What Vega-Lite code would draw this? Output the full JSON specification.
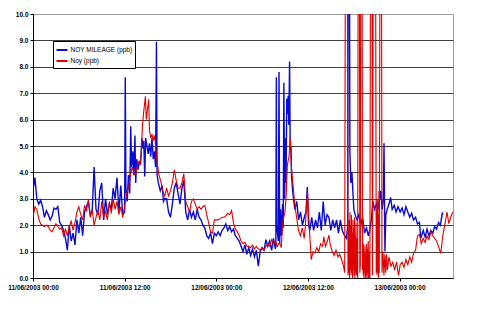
{
"$schema": "https://vega.github.io/schema/vega-lite/v6.json",
"width": 420, "height": 264,
"autosize": "none",
"padding": {"left": 33, "top": 14, "right": 32, "bottom": 44},
"background": "white",
"config": {"view": {"stroke": "#a0a0a0", "strokeWidth": 1}, "font": "Liberation Sans"},
"datasets": {
"mileage": [
{"t":"2003-06-11T00:00","v":3.3},{"t":"2003-06-11T00:15","v":3.8},{"t":"2003-06-11T00:30","v":3.0},{"t":"2003-06-11T00:45","v":2.8},
{"t":"2003-06-11T01:00","v":2.95},{"t":"2003-06-11T01:15","v":2.7},{"t":"2003-06-11T01:30","v":2.3},{"t":"2003-06-11T01:45","v":2.55},
{"t":"2003-06-11T02:00","v":2.4},{"t":"2003-06-11T02:15","v":2.2},{"t":"2003-06-11T02:30","v":2.35},{"t":"2003-06-11T02:45","v":2.65},
{"t":"2003-06-11T03:00","v":2.6},{"t":"2003-06-11T03:15","v":2.7},{"t":"2003-06-11T03:30","v":2.1},{"t":"2003-06-11T03:45","v":2.0},
{"t":"2003-06-11T04:00","v":1.8},{"t":"2003-06-11T04:15","v":1.5},{"t":"2003-06-11T04:30","v":1.05},{"t":"2003-06-11T04:45","v":2.0},
{"t":"2003-06-11T05:00","v":1.4},{"t":"2003-06-11T05:15","v":1.7},{"t":"2003-06-11T05:30","v":1.25},{"t":"2003-06-11T05:45","v":2.2},
{"t":"2003-06-11T06:00","v":1.7},{"t":"2003-06-11T06:15","v":2.3},{"t":"2003-06-11T06:30","v":1.6},{"t":"2003-06-11T06:45","v":2.5},
{"t":"2003-06-11T07:00","v":2.7},{"t":"2003-06-11T07:15","v":2.9},{"t":"2003-06-11T07:30","v":2.4},{"t":"2003-06-11T07:45","v":2.5},
{"t":"2003-06-11T08:00","v":4.2},{"t":"2003-06-11T08:15","v":2.6},{"t":"2003-06-11T08:30","v":2.4},{"t":"2003-06-11T08:45","v":3.3},
{"t":"2003-06-11T09:00","v":3.6},{"t":"2003-06-11T09:15","v":2.2},{"t":"2003-06-11T09:30","v":3.0},{"t":"2003-06-11T09:45","v":2.4},
{"t":"2003-06-11T10:00","v":2.8},{"t":"2003-06-11T10:15","v":2.6},{"t":"2003-06-11T10:30","v":3.4},{"t":"2003-06-11T10:45","v":3.0},
{"t":"2003-06-11T11:00","v":3.8},{"t":"2003-06-11T11:15","v":2.5},{"t":"2003-06-11T11:30","v":3.5},{"t":"2003-06-11T11:45","v":2.4},
{"t":"2003-06-11T12:00","v":2.5},{"t":"2003-06-11T12:05","v":7.6},{"t":"2003-06-11T12:10","v":3.4},{"t":"2003-06-11T12:20","v":2.9},
{"t":"2003-06-11T12:30","v":3.9},{"t":"2003-06-11T12:40","v":3.2},{"t":"2003-06-11T12:48","v":5.75},{"t":"2003-06-11T12:55","v":4.2},
{"t":"2003-06-11T13:05","v":4.8},{"t":"2003-06-11T13:12","v":3.9},{"t":"2003-06-11T13:21","v":5.4},{"t":"2003-06-11T13:27","v":3.6},
{"t":"2003-06-11T13:35","v":4.5},{"t":"2003-06-11T13:45","v":4.1},{"t":"2003-06-11T13:55","v":4.4},{"t":"2003-06-11T14:05","v":4.3},
{"t":"2003-06-11T14:15","v":5.3},{"t":"2003-06-11T14:25","v":4.9},{"t":"2003-06-11T14:30","v":5.2},{"t":"2003-06-11T14:38","v":3.85},
{"t":"2003-06-11T14:45","v":5.3},{"t":"2003-06-11T14:55","v":5.0},{"t":"2003-06-11T15:05","v":4.7},{"t":"2003-06-11T15:15","v":5.1},
{"t":"2003-06-11T15:25","v":4.6},{"t":"2003-06-11T15:35","v":5.3},{"t":"2003-06-11T15:45","v":4.5},{"t":"2003-06-11T15:55","v":4.8},
{"t":"2003-06-11T16:03","v":4.2},{"t":"2003-06-11T16:10","v":8.95},{"t":"2003-06-11T16:15","v":3.9},{"t":"2003-06-11T16:25","v":3.6},
{"t":"2003-06-11T16:40","v":3.3},{"t":"2003-06-11T16:55","v":3.5},{"t":"2003-06-11T17:05","v":2.9},{"t":"2003-06-11T17:15","v":3.0},
{"t":"2003-06-11T17:30","v":3.0},{"t":"2003-06-11T17:45","v":2.5},{"t":"2003-06-11T18:00","v":2.3},{"t":"2003-06-11T18:15","v":2.8},
{"t":"2003-06-11T18:30","v":3.4},{"t":"2003-06-11T18:45","v":3.6},{"t":"2003-06-11T19:00","v":3.2},{"t":"2003-06-11T19:15","v":2.8},
{"t":"2003-06-11T19:30","v":3.4},{"t":"2003-06-11T19:45","v":3.7},{"t":"2003-06-11T20:00","v":2.5},{"t":"2003-06-11T20:15","v":2.2},
{"t":"2003-06-11T20:30","v":2.6},{"t":"2003-06-11T20:45","v":2.3},{"t":"2003-06-11T21:00","v":2.5},{"t":"2003-06-11T21:15","v":2.2},
{"t":"2003-06-11T21:30","v":2.6},{"t":"2003-06-11T21:45","v":2.3},{"t":"2003-06-11T22:00","v":2.2},{"t":"2003-06-11T22:15","v":2.0},
{"t":"2003-06-11T22:30","v":1.9},{"t":"2003-06-11T22:45","v":1.6},{"t":"2003-06-11T23:00","v":1.5},{"t":"2003-06-11T23:15","v":1.7},
{"t":"2003-06-11T23:30","v":1.3},{"t":"2003-06-11T23:45","v":1.7},
{"t":"2003-06-12T00:00","v":1.6},{"t":"2003-06-12T00:15","v":1.75},{"t":"2003-06-12T00:30","v":1.6},{"t":"2003-06-12T00:45","v":1.8},
{"t":"2003-06-12T01:00","v":1.9},{"t":"2003-06-12T01:15","v":2.05},{"t":"2003-06-12T01:30","v":1.8},{"t":"2003-06-12T01:45","v":1.95},
{"t":"2003-06-12T02:00","v":1.75},{"t":"2003-06-12T02:15","v":1.85},{"t":"2003-06-12T02:30","v":1.6},{"t":"2003-06-12T02:45","v":1.5},
{"t":"2003-06-12T03:00","v":1.4},{"t":"2003-06-12T03:15","v":1.2},{"t":"2003-06-12T03:30","v":1.0},{"t":"2003-06-12T03:45","v":1.25},
{"t":"2003-06-12T04:00","v":0.9},{"t":"2003-06-12T04:15","v":1.15},{"t":"2003-06-12T04:30","v":0.85},{"t":"2003-06-12T04:45","v":1.1},
{"t":"2003-06-12T05:00","v":0.8},{"t":"2003-06-12T05:15","v":1.05},{"t":"2003-06-12T05:30","v":0.45},{"t":"2003-06-12T05:45","v":1.0},
{"t":"2003-06-12T06:00","v":1.15},{"t":"2003-06-12T06:15","v":1.05},{"t":"2003-06-12T06:30","v":1.45},{"t":"2003-06-12T06:45","v":1.2},
{"t":"2003-06-12T07:00","v":1.4},{"t":"2003-06-12T07:15","v":1.05},{"t":"2003-06-12T07:29","v":1.5},{"t":"2003-06-12T07:44","v":1.1},
{"t":"2003-06-12T07:48","v":1.2},{"t":"2003-06-12T07:52","v":7.6},{"t":"2003-06-12T07:55","v":2.0},{"t":"2003-06-12T08:07","v":1.4},
{"t":"2003-06-12T08:13","v":7.8},{"t":"2003-06-12T08:18","v":1.3},{"t":"2003-06-12T08:25","v":2.6},{"t":"2003-06-12T08:31","v":1.6},
{"t":"2003-06-12T08:41","v":2.8},{"t":"2003-06-12T08:46","v":1.9},{"t":"2003-06-12T08:51","v":7.4},{"t":"2003-06-12T08:57","v":3.0},
{"t":"2003-06-12T09:03","v":5.3},{"t":"2003-06-12T09:08","v":3.6},{"t":"2003-06-12T09:14","v":6.8},{"t":"2003-06-12T09:19","v":6.2},
{"t":"2003-06-12T09:25","v":6.9},{"t":"2003-06-12T09:30","v":5.8},{"t":"2003-06-12T09:36","v":8.2},{"t":"2003-06-12T09:41","v":4.9},
{"t":"2003-06-12T09:47","v":5.0},{"t":"2003-06-12T09:52","v":3.8},{"t":"2003-06-12T10:02","v":3.2},{"t":"2003-06-12T10:17","v":2.6},
{"t":"2003-06-12T10:32","v":2.9},{"t":"2003-06-12T10:47","v":2.2},{"t":"2003-06-12T11:02","v":2.5},{"t":"2003-06-12T11:17","v":2.0},
{"t":"2003-06-12T11:32","v":2.3},{"t":"2003-06-12T11:45","v":2.5},{"t":"2003-06-12T11:55","v":3.45},{"t":"2003-06-12T12:05","v":2.0},
{"t":"2003-06-12T12:15","v":1.8},{"t":"2003-06-12T12:30","v":2.3},{"t":"2003-06-12T12:45","v":1.8},{"t":"2003-06-12T13:00","v":2.2},
{"t":"2003-06-12T13:15","v":1.9},{"t":"2003-06-12T13:30","v":2.5},{"t":"2003-06-12T13:45","v":1.8},{"t":"2003-06-12T14:00","v":2.9},
{"t":"2003-06-12T14:15","v":2.0},{"t":"2003-06-12T14:30","v":2.4},{"t":"2003-06-12T14:45","v":2.3},{"t":"2003-06-12T15:00","v":1.8},
{"t":"2003-06-12T15:15","v":2.2},{"t":"2003-06-12T15:30","v":1.9},{"t":"2003-06-12T15:45","v":2.2},{"t":"2003-06-12T16:00","v":1.7},
{"t":"2003-06-12T16:15","v":2.2},{"t":"2003-06-12T16:30","v":1.8},{"t":"2003-06-12T16:48","v":1.6},{"t":"2003-06-12T17:03","v":1.5},
{"t":"2003-06-12T17:13","v":2.0},{"t":"2003-06-12T17:20","v":25},{"t":"2003-06-12T17:30","v":4.8},{"t":"2003-06-12T17:37","v":3.6},
{"t":"2003-06-12T17:46","v":4.0},{"t":"2003-06-12T17:54","v":3.2},{"t":"2003-06-12T18:01","v":2.6},{"t":"2003-06-12T18:11","v":2.4},
{"t":"2003-06-12T18:25","v":2.2},{"t":"2003-06-12T18:40","v":2.4},{"t":"2003-06-12T18:55","v":2.0},{"t":"2003-06-12T19:10","v":2.3},
{"t":"2003-06-12T19:25","v":1.7},{"t":"2003-06-12T19:40","v":1.9},{"t":"2003-06-12T19:55","v":1.6},{"t":"2003-06-12T20:05","v":1.8},
{"t":"2003-06-12T20:18","v":2.2},{"t":"2003-06-12T20:31","v":2.9},{"t":"2003-06-12T20:44","v":2.6},{"t":"2003-06-12T20:58","v":2.8},
{"t":"2003-06-12T21:10","v":2.6},{"t":"2003-06-12T21:24","v":3.0},{"t":"2003-06-12T21:33","v":3.3},{"t":"2003-06-12T21:43","v":2.6},
{"t":"2003-06-12T21:53","v":3.0},{"t":"2003-06-12T21:58","v":5.1},{"t":"2003-06-12T22:05","v":1.0},{"t":"2003-06-12T22:12","v":2.4},
{"t":"2003-06-12T22:23","v":2.6},{"t":"2003-06-12T22:37","v":2.8},{"t":"2003-06-12T22:50","v":3.05},{"t":"2003-06-12T23:02","v":2.6},
{"t":"2003-06-12T23:18","v":2.75},{"t":"2003-06-12T23:33","v":2.5},{"t":"2003-06-12T23:48","v":2.7},
{"t":"2003-06-13T00:05","v":2.5},{"t":"2003-06-13T00:20","v":2.65},{"t":"2003-06-13T00:35","v":2.4},{"t":"2003-06-13T00:50","v":2.7},
{"t":"2003-06-13T01:05","v":2.5},{"t":"2003-06-13T01:20","v":2.3},{"t":"2003-06-13T01:35","v":2.45},{"t":"2003-06-13T01:50","v":2.2},
{"t":"2003-06-13T02:06","v":2.3},{"t":"2003-06-13T02:21","v":2.05},{"t":"2003-06-13T02:36","v":2.1},{"t":"2003-06-13T02:47","v":1.5},
{"t":"2003-06-13T03:06","v":1.8},{"t":"2003-06-13T03:21","v":1.55},{"t":"2003-06-13T03:36","v":1.85},{"t":"2003-06-13T03:51","v":1.6},
{"t":"2003-06-13T04:06","v":1.8},{"t":"2003-06-13T04:21","v":1.7},{"t":"2003-06-13T04:36","v":1.95},{"t":"2003-06-13T04:51","v":1.85},
{"t":"2003-06-13T05:06","v":2.1},{"t":"2003-06-13T05:21","v":2.0},{"t":"2003-06-13T05:36","v":2.45},{"t":"2003-06-13T05:42","v":2.4}
],
"noy": [
{"t":"2003-06-11T00:00","v":2.3},{"t":"2003-06-11T00:15","v":2.7},{"t":"2003-06-11T00:30","v":2.6},{"t":"2003-06-11T00:45","v":2.25},
{"t":"2003-06-11T01:00","v":2.05},{"t":"2003-06-11T01:15","v":2.0},{"t":"2003-06-11T01:30","v":1.95},{"t":"2003-06-11T01:45","v":2.0},
{"t":"2003-06-11T02:00","v":1.95},{"t":"2003-06-11T02:15","v":1.8},{"t":"2003-06-11T02:30","v":1.75},{"t":"2003-06-11T02:45","v":1.9},
{"t":"2003-06-11T03:00","v":2.05},{"t":"2003-06-11T03:15","v":1.95},{"t":"2003-06-11T03:30","v":1.85},{"t":"2003-06-11T03:45","v":1.9},
{"t":"2003-06-11T04:00","v":1.6},{"t":"2003-06-11T04:15","v":1.85},{"t":"2003-06-11T04:30","v":1.6},{"t":"2003-06-11T04:45","v":1.95},
{"t":"2003-06-11T05:00","v":2.15},{"t":"2003-06-11T05:15","v":1.8},{"t":"2003-06-11T05:30","v":2.1},{"t":"2003-06-11T05:45","v":2.5},
{"t":"2003-06-11T06:00","v":2.7},{"t":"2003-06-11T06:15","v":2.4},{"t":"2003-06-11T06:30","v":2.2},{"t":"2003-06-11T06:45","v":2.75},
{"t":"2003-06-11T07:00","v":2.55},{"t":"2003-06-11T07:15","v":2.95},{"t":"2003-06-11T07:30","v":2.3},{"t":"2003-06-11T07:45","v":2.6},
{"t":"2003-06-11T08:00","v":2.0},{"t":"2003-06-11T08:15","v":2.3},{"t":"2003-06-11T08:30","v":2.55},{"t":"2003-06-11T08:45","v":2.2},
{"t":"2003-06-11T09:00","v":2.9},{"t":"2003-06-11T09:15","v":2.3},{"t":"2003-06-11T09:30","v":2.5},{"t":"2003-06-11T09:45","v":2.2},
{"t":"2003-06-11T10:00","v":2.9},{"t":"2003-06-11T10:15","v":2.45},{"t":"2003-06-11T10:30","v":3.0},{"t":"2003-06-11T10:45","v":2.6},
{"t":"2003-06-11T11:00","v":2.9},{"t":"2003-06-11T11:15","v":2.4},{"t":"2003-06-11T11:30","v":2.7},{"t":"2003-06-11T11:45","v":2.3},
{"t":"2003-06-11T12:00","v":2.7},{"t":"2003-06-11T12:15","v":3.2},{"t":"2003-06-11T12:30","v":3.4},{"t":"2003-06-11T12:45","v":3.9},
{"t":"2003-06-11T13:00","v":4.2},{"t":"2003-06-11T13:15","v":3.9},{"t":"2003-06-11T13:30","v":4.0},{"t":"2003-06-11T13:45","v":4.4},
{"t":"2003-06-11T14:00","v":4.3},{"t":"2003-06-11T14:10","v":4.6},{"t":"2003-06-11T14:20","v":5.8},{"t":"2003-06-11T14:30","v":6.3},
{"t":"2003-06-11T14:43","v":6.88},{"t":"2003-06-11T14:50","v":6.0},{"t":"2003-06-11T15:00","v":6.4},{"t":"2003-06-11T15:09","v":6.77},
{"t":"2003-06-11T15:15","v":5.6},{"t":"2003-06-11T15:25","v":5.3},{"t":"2003-06-11T15:35","v":5.45},{"t":"2003-06-11T15:45","v":5.2},
{"t":"2003-06-11T15:55","v":5.4},{"t":"2003-06-11T16:05","v":4.9},{"t":"2003-06-11T16:15","v":4.4},{"t":"2003-06-11T16:30","v":3.9},
{"t":"2003-06-11T16:45","v":3.65},{"t":"2003-06-11T17:00","v":3.3},{"t":"2003-06-11T17:15","v":3.1},{"t":"2003-06-11T17:30","v":3.4},
{"t":"2003-06-11T17:45","v":3.1},{"t":"2003-06-11T18:00","v":3.3},{"t":"2003-06-11T18:15","v":3.6},{"t":"2003-06-11T18:30","v":4.1},
{"t":"2003-06-11T18:45","v":3.7},{"t":"2003-06-11T19:00","v":3.4},{"t":"2003-06-11T19:15","v":3.4},{"t":"2003-06-11T19:30","v":3.6},
{"t":"2003-06-11T19:45","v":3.95},{"t":"2003-06-11T20:00","v":2.9},{"t":"2003-06-11T20:15","v":2.7},{"t":"2003-06-11T20:30","v":2.5},
{"t":"2003-06-11T20:45","v":2.9},{"t":"2003-06-11T21:00","v":3.0},{"t":"2003-06-11T21:15","v":2.8},{"t":"2003-06-11T21:30","v":2.6},
{"t":"2003-06-11T21:45","v":2.7},{"t":"2003-06-11T22:00","v":2.6},{"t":"2003-06-11T22:15","v":2.7},{"t":"2003-06-11T22:30","v":2.75},
{"t":"2003-06-11T22:45","v":2.4},{"t":"2003-06-11T23:00","v":2.1},{"t":"2003-06-11T23:15","v":1.75},{"t":"2003-06-11T23:30","v":1.7},
{"t":"2003-06-11T23:45","v":2.2},
{"t":"2003-06-12T00:00","v":2.2},{"t":"2003-06-12T00:15","v":2.2},{"t":"2003-06-12T00:30","v":2.25},{"t":"2003-06-12T00:45","v":2.3},
{"t":"2003-06-12T01:00","v":2.3},{"t":"2003-06-12T01:15","v":2.35},{"t":"2003-06-12T01:30","v":2.45},{"t":"2003-06-12T01:45","v":2.4},
{"t":"2003-06-12T02:00","v":2.55},{"t":"2003-06-12T02:15","v":2.1},{"t":"2003-06-12T02:30","v":1.85},{"t":"2003-06-12T02:45","v":1.75},
{"t":"2003-06-12T03:00","v":1.6},{"t":"2003-06-12T03:15","v":1.4},{"t":"2003-06-12T03:30","v":1.3},{"t":"2003-06-12T03:45","v":1.35},
{"t":"2003-06-12T04:00","v":1.2},{"t":"2003-06-12T04:15","v":1.2},{"t":"2003-06-12T04:30","v":1.15},{"t":"2003-06-12T04:45","v":1.25},
{"t":"2003-06-12T05:00","v":1.1},{"t":"2003-06-12T05:15","v":1.2},{"t":"2003-06-12T05:30","v":1.1},{"t":"2003-06-12T05:45","v":1.05},
{"t":"2003-06-12T06:00","v":1.15},{"t":"2003-06-12T06:15","v":1.05},{"t":"2003-06-12T06:30","v":1.2},{"t":"2003-06-12T06:45","v":1.3},
{"t":"2003-06-12T07:00","v":1.2},{"t":"2003-06-12T07:15","v":1.45},{"t":"2003-06-12T07:29","v":1.3},{"t":"2003-06-12T07:44","v":1.4},
{"t":"2003-06-12T08:00","v":1.2},{"t":"2003-06-12T08:15","v":1.35},{"t":"2003-06-12T08:30","v":1.15},{"t":"2003-06-12T08:45","v":2.2},
{"t":"2003-06-12T09:00","v":2.5},{"t":"2003-06-12T09:09","v":3.1},{"t":"2003-06-12T09:19","v":4.3},{"t":"2003-06-12T09:32","v":4.6},
{"t":"2003-06-12T09:42","v":5.34},{"t":"2003-06-12T09:50","v":4.2},{"t":"2003-06-12T10:02","v":3.6},{"t":"2003-06-12T10:16","v":2.8},
{"t":"2003-06-12T10:31","v":2.3},{"t":"2003-06-12T10:46","v":1.8},{"t":"2003-06-12T11:01","v":1.6},{"t":"2003-06-12T11:16","v":1.9},
{"t":"2003-06-12T11:31","v":1.5},{"t":"2003-06-12T11:39","v":1.9},{"t":"2003-06-12T11:48","v":2.7},{"t":"2003-06-12T11:57","v":3.25},
{"t":"2003-06-12T12:10","v":2.0},{"t":"2003-06-12T12:26","v":0.7},{"t":"2003-06-12T12:40","v":1.0},{"t":"2003-06-12T12:55","v":0.95},
{"t":"2003-06-12T13:10","v":1.15},{"t":"2003-06-12T13:25","v":1.0},{"t":"2003-06-12T13:40","v":1.3},{"t":"2003-06-12T13:56","v":1.2},
{"t":"2003-06-12T14:05","v":1.56},{"t":"2003-06-12T14:18","v":1.2},{"t":"2003-06-12T14:33","v":1.4},{"t":"2003-06-12T14:45","v":1.62},
{"t":"2003-06-12T14:56","v":1.25},{"t":"2003-06-12T15:11","v":1.0},{"t":"2003-06-12T15:26","v":0.85},{"t":"2003-06-12T15:41","v":1.05},
{"t":"2003-06-12T15:56","v":0.8},{"t":"2003-06-12T16:10","v":0.9},{"t":"2003-06-12T16:25","v":0.7},{"t":"2003-06-12T16:40","v":0.45},
{"t":"2003-06-12T16:49","v":0.2},{"t":"2003-06-12T17:02","v":30},{"t":"2003-06-12T17:15","v":0.1},
{"t":"2003-06-12T17:18","v":1.8},{"t":"2003-06-12T17:21","v":0.2},{"t":"2003-06-12T17:24","v":2.2},{"t":"2003-06-12T17:27","v":0.0},
{"t":"2003-06-12T17:30","v":2.5},{"t":"2003-06-12T17:33","v":0.3},{"t":"2003-06-12T17:36","v":2.0},{"t":"2003-06-12T17:39","v":0.1},
{"t":"2003-06-12T17:42","v":2.4},{"t":"2003-06-12T17:45","v":0.2},{"t":"2003-06-12T17:48","v":1.7},{"t":"2003-06-12T17:51","v":0.0},
{"t":"2003-06-12T17:54","v":2.2},{"t":"2003-06-12T17:57","v":0.3},{"t":"2003-06-12T18:00","v":1.9},{"t":"2003-06-12T18:03","v":0.1},
{"t":"2003-06-12T18:06","v":2.3},{"t":"2003-06-12T18:09","v":0.0},{"t":"2003-06-12T18:12","v":1.6},{"t":"2003-06-12T18:15","v":0.2},
{"t":"2003-06-12T18:18","v":2.1},{"t":"2003-06-12T18:21","v":0.1},{"t":"2003-06-12T18:24","v":1.5},{"t":"2003-06-12T18:27","v":0.2},
{"t":"2003-06-12T18:31","v":0},{"t":"2003-06-12T18:40","v":30},{"t":"2003-06-12T18:48","v":0.2},
{"t":"2003-06-12T18:52","v":0.5},{"t":"2003-06-12T19:01","v":30},{"t":"2003-06-12T19:09","v":0.3},
{"t":"2003-06-12T19:12","v":1.1},{"t":"2003-06-12T19:15","v":0.1},{"t":"2003-06-12T19:18","v":1.3},{"t":"2003-06-12T19:21","v":0.0},
{"t":"2003-06-12T19:24","v":1.0},{"t":"2003-06-12T19:27","v":0.2},{"t":"2003-06-12T19:30","v":1.2},{"t":"2003-06-12T19:33","v":0.0},
{"t":"2003-06-12T19:36","v":0.9},{"t":"2003-06-12T19:39","v":0.1},{"t":"2003-06-12T19:42","v":1.3},{"t":"2003-06-12T19:45","v":0.0},
{"t":"2003-06-12T19:48","v":1.1},{"t":"2003-06-12T19:51","v":0.2},{"t":"2003-06-12T19:54","v":1.4},{"t":"2003-06-12T19:57","v":0.0},
{"t":"2003-06-12T20:00","v":1.0},{"t":"2003-06-12T20:03","v":0.1},{"t":"2003-06-12T20:07","v":0},{"t":"2003-06-12T20:18","v":30},
{"t":"2003-06-12T20:27","v":0.1},{"t":"2003-06-12T20:44","v":30},{"t":"2003-06-12T20:57","v":0.2},
{"t":"2003-06-12T21:00","v":2.6},{"t":"2003-06-12T21:03","v":0.1},{"t":"2003-06-12T21:06","v":3.0},{"t":"2003-06-12T21:09","v":0.2},
{"t":"2003-06-12T21:12","v":2.4},{"t":"2003-06-12T21:15","v":0.0},{"t":"2003-06-12T21:18","v":3.3},{"t":"2003-06-12T21:21","v":0.2},
{"t":"2003-06-12T21:33","v":30},
{"t":"2003-06-12T21:42","v":0.2},{"t":"2003-06-12T21:50","v":1.0},{"t":"2003-06-12T21:57","v":0.1},{"t":"2003-06-12T22:04","v":0.9},
{"t":"2003-06-12T22:11","v":0.2},{"t":"2003-06-12T22:18","v":0.9},{"t":"2003-06-12T22:25","v":0.3},{"t":"2003-06-12T22:37","v":0.8},
{"t":"2003-06-12T22:52","v":0.45},{"t":"2003-06-12T23:07","v":0.6},{"t":"2003-06-12T23:21","v":0.3},{"t":"2003-06-12T23:36","v":0.6},
{"t":"2003-06-12T23:52","v":0.1},
{"t":"2003-06-13T00:05","v":0.5},{"t":"2003-06-13T00:20","v":0.6},{"t":"2003-06-13T00:35","v":0.4},{"t":"2003-06-13T00:50","v":0.7},
{"t":"2003-06-13T01:05","v":0.5},{"t":"2003-06-13T01:20","v":0.8},{"t":"2003-06-13T01:35","v":0.6},{"t":"2003-06-13T01:50","v":0.95},
{"t":"2003-06-13T02:06","v":1.05},{"t":"2003-06-13T02:21","v":1.6},{"t":"2003-06-13T02:36","v":1.65},{"t":"2003-06-13T02:51","v":1.3},
{"t":"2003-06-13T03:06","v":1.5},{"t":"2003-06-13T03:21","v":1.35},{"t":"2003-06-13T03:36","v":1.6},{"t":"2003-06-13T03:51","v":1.45},
{"t":"2003-06-13T04:06","v":1.75},{"t":"2003-06-13T04:21","v":1.6},{"t":"2003-06-13T04:36","v":1.5},{"t":"2003-06-13T04:51","v":1.4},
{"t":"2003-06-13T05:06","v":1.2},{"t":"2003-06-13T05:24","v":0.93},{"t":"2003-06-13T05:40","v":1.6},{"t":"2003-06-13T05:55","v":2.0},
{"t":"2003-06-13T06:13","v":2.5},{"t":"2003-06-13T06:27","v":2.06},{"t":"2003-06-13T06:42","v":2.3},{"t":"2003-06-13T06:58","v":2.5}
]
},
"encoding": {
"x": {"field": "t", "type": "temporal",
 "scale": {"domain": [{"year":2003,"month":6,"date":11,"hours":0},{"year":2003,"month":6,"date":13,"hours":7}]},
 "axis": {"title": null, "grid": false,
  "values": [{"year":2003,"month":6,"date":11,"hours":0},{"year":2003,"month":6,"date":11,"hours":12},{"year":2003,"month":6,"date":12,"hours":0},{"year":2003,"month":6,"date":12,"hours":12},{"year":2003,"month":6,"date":13,"hours":0}],
  "format": "%d/%m/%Y %H:%M", "labelFontSize": 6.5, "labelFontWeight": "bold", "labelColor": "#000", "labelFont": "Liberation Sans",
  "tickSize": 3, "tickColor": "#000", "domainColor": "#000", "labelPadding": 3, "labelFlush": false, "labelOverlap": false}},
"y": {"field": "v", "type": "quantitative",
 "scale": {"domain": [0, 10], "nice": false},
 "axis": {"title": null, "values": [0,1,2,3,4,5,6,7,8,9,10], "format": ".1f", "grid": true,
  "gridColor": {"condition": {"test": "datum.value >= 10", "value": "#a0a0a0"}, "value": "#404040"},
  "labelFontSize": 6.5, "labelFontWeight": "bold", "labelColor": "#000", "labelFont": "Liberation Sans",
  "tickSize": 3, "tickColor": "#000", "domainColor": "#000", "labelPadding": 2}}
},
"layer": [
{"data": {"name": "mileage"}, "mark": {"type": "line", "clip": true, "strokeWidth": 1.4},
 "encoding": {"color": {"datum": "NOY MILEAGE (ppb)", "type": "nominal",
  "scale": {"domain": ["NOY MILEAGE (ppb)", "Noy (ppb)"], "range": ["#0a0ad2", "#e00000"]},
  "legend": {"title": null, "orient": "none", "legendX": 20, "legendY": 27, "strokeColor": "#000", "fillColor": "white", "padding": 2.5,
   "symbolType": "stroke", "symbolSize": 121, "symbolStrokeWidth": 2, "labelFontSize": 6.5, "labelFont": "Liberation Sans", "labelColor": "#000", "labelOffset": 2, "rowPadding": 0, "labelLimit": 200}}}},
{"data": {"name": "noy"}, "mark": {"type": "line", "clip": true, "strokeWidth": 1.1},
 "encoding": {"color": {"datum": "Noy (ppb)", "type": "nominal"}}}
]
}
